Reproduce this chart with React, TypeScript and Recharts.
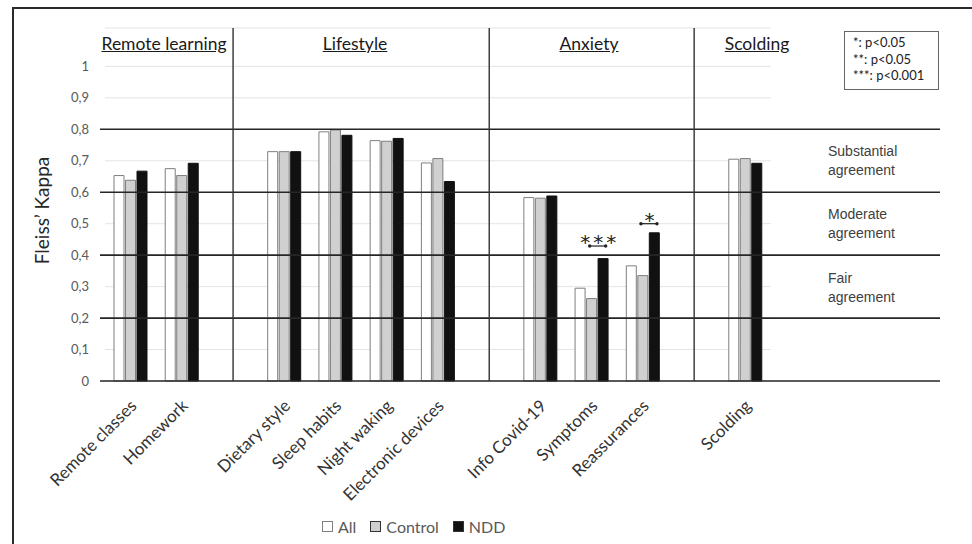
import { BarChart, Bar, XAxis, YAxis, CartesianGrid, ReferenceLine, ReferenceDot } from 'recharts';

const CATEGORIES = [
  'Remote classes', 'Homework', '',
  'Dietary style', 'Sleep habits', 'Night waking', 'Electronic devices', '',
  'Info Covid-19', 'Symptoms', 'Reassurances', '',
  'Scolding',
];
const ALL = [0.653, 0.675, null, 0.729, 0.792, 0.764, 0.693, null, 0.583, 0.295, 0.366, null, 0.705];
const CONTROL = [0.638, 0.653, null, 0.729, 0.798, 0.762, 0.707, null, 0.581, 0.262, 0.335, null, 0.707];
const NDD = [0.667, 0.692, null, 0.729, 0.781, 0.771, 0.634, null, 0.588, 0.389, 0.471, null, 0.692];

const Y_TICKS = [0, 0.1, 0.2, 0.3, 0.4, 0.5, 0.6, 0.7, 0.8, 0.9, 1];
const THRESHOLDS = [0, 0.2, 0.4, 0.6, 0.8];
const SEPARATORS = ['k2', 'k7', 'k11'];

const SIGNIFICANCE = [
  { cat: 'k9', y: 0.429, stars: '***' },
  { cat: 'k10', y: 0.5, stars: '*' },
];

const SERIES = [
  { key: 'all', name: 'All', values: ALL, fill: '#ffffff', stroke: '#7f7f7f' },
  { key: 'control', name: 'Control', values: CONTROL, fill: '#d0d0d0', stroke: '#7f7f7f' },
  { key: 'ndd', name: 'NDD', values: NDD, fill: '#111111', stroke: '#111111' },
];

const SECTIONS = [
  { label: 'Remote learning', left: 94, width: 140 },
  { label: 'Lifestyle', left: 300, width: 110 },
  { label: 'Anxiety', left: 540, width: 98 },
  { label: 'Scolding', left: 710, width: 94 },
];

const AGREEMENT = [
  { label: ['Substantial', 'agreement'], top: 142 },
  { label: ['Moderate', 'agreement'], top: 205 },
  { label: ['Fair', 'agreement'], top: 269 },
];

const P_LEGEND = ['*: p<0.05', '**: p<0.05', '***: p<0.001'];

const data = CATEGORIES.map((c, i) => {
  const row: Record<string, any> = { key: `k${i}`, label: c };
  SERIES.forEach((s) => {
    row[s.key] = s.values[i];
  });
  return row;
});

const PAD_LEFT = 5;
const PAD_RIGHT = 169;
const FONT = 'Lato, "Open Sans", sans-serif';

const CategoryTick = (props: any) => {
  const { x, y, payload } = props;
  const row = data.find((d) => d.key === payload.value);
  const label = row ? row.label : '';
  const tx = x + 7;
  const ty = y + 24;
  return (
    <text
      x={tx}
      y={ty}
      textAnchor="end"
      transform={`rotate(-45 ${tx} ${ty})`}
      fontSize={17}
      fontFamily={FONT}
      fill="#333"
    >
      {label}
    </text>
  );
};

const SigMark = (props: any) => {
  const { cx, cy, stars } = props;
  if (cx == null || cy == null) return null;
  const x1 = cx - 2;
  const x2 = cx + 14;
  return (
    <g>
      <line x1={x1} x2={x2} y1={cy} y2={cy} stroke="#222" strokeWidth={1.2} />
      <circle cx={x1} cy={cy} r={1.7} fill="#222" />
      <circle cx={x2} cy={cy} r={1.7} fill="#222" />
      <text
        x={(x1 + x2) / 2 + 2}
        y={cy + 3}
        textAnchor="middle"
        fontSize={20}
        fontFamily='"DejaVu Sans", sans-serif'
        letterSpacing={3}
        fill="#222"
      >
        {stars}
      </text>
    </g>
  );
};

export default function App() {
  return (
    <div
      style={{
        position: 'absolute',
        left: 0,
        top: 0,
        width: 972,
        height: 544,
        overflow: 'hidden',
        background: '#fff',
        fontFamily: FONT,
      }}
    >
      <div
        style={{
          position: 'absolute',
          left: 12,
          top: 7,
          width: 1000,
          height: 600,
          border: '2px solid #2a2a2a',
        }}
      />
      <div style={{ position: 'absolute', left: 0, top: 0 }}>
        <BarChart
          width={972}
          height={544}
          data={data}
          margin={{ top: 28, right: 32, left: 0, bottom: 0 }}
          barSize={10}
          barGap={1.5}
        >
          <CartesianGrid
            vertical={false}
            horizontal={(p: any) => (
              <line
                key={p.key}
                x1={p.x1 + PAD_LEFT}
                x2={p.x2 - PAD_RIGHT}
                y1={p.y1}
                y2={p.y2}
                stroke="#e4e4e4"
                strokeWidth={1}
              />
            )}
          />
          <XAxis
            dataKey="key"
            interval={0}
            height={163}
            tickSize={0}
            axisLine={false}
            tickLine={false}
            padding={{ left: PAD_LEFT, right: PAD_RIGHT }}
            tick={<CategoryTick />}
          />
          <YAxis
            width={100}
            domain={[0, 1.122]}
            ticks={Y_TICKS}
            axisLine={false}
            tickLine={false}
            tickSize={0}
            tickMargin={11}
            tickFormatter={(v: number) => String(v).replace('.', ',')}
            tick={{ fontSize: 13, fill: '#595959', fontFamily: FONT }}
            label={{
              value: 'Fleiss’ Kappa',
              angle: -90,
              position: 'insideLeft',
              offset: 42,
              dy: 6,
              style: { fontSize: 19, fill: '#262626', fontFamily: FONT, textAnchor: 'middle' },
            }}
          />
          {SERIES.map((s) => (
            <Bar
              key={s.key}
              dataKey={s.key}
              name={s.name}
              fill={s.fill}
              stroke={s.stroke}
              strokeWidth={1}
              isAnimationActive={false}
            />
          ))}
          {THRESHOLDS.map((t) => (
            <ReferenceLine key={t} y={t} stroke="#262626" strokeWidth={1.6} />
          ))}
          {SEPARATORS.map((k) => (
            <ReferenceLine key={k} x={k} stroke="#333" strokeWidth={1.4} />
          ))}
          {SIGNIFICANCE.map((s) => (
            <ReferenceDot
              key={s.cat}
              x={s.cat}
              y={s.y}
              r={0}
              shape={(p: any) => <SigMark {...p} stars={s.stars} />}
            />
          ))}
        </BarChart>
      </div>

      {SECTIONS.map((s) => (
        <div
          key={s.label}
          style={{
            position: 'absolute',
            left: s.left,
            top: 33,
            width: s.width,
            textAlign: 'center',
            fontSize: 17.5,
            color: '#1a1a1a',
            textDecoration: 'underline',
            whiteSpace: 'nowrap',
          }}
        >
          {s.label}
        </div>
      ))}

      {AGREEMENT.map((a) => (
        <div
          key={a.label[0]}
          style={{
            position: 'absolute',
            left: 828,
            top: a.top,
            fontSize: 14,
            lineHeight: '19px',
            color: '#404040',
            fontFamily: '"Liberation Sans", Arial, sans-serif',
          }}
        >
          {a.label[0]}
          <br />
          {a.label[1]}
        </div>
      ))}

      <div
        style={{
          position: 'absolute',
          left: 844,
          top: 31,
          width: 95,
          height: 59,
          border: '1px solid #666',
          paddingLeft: 8,
          boxSizing: 'border-box',
          paddingTop: 2,
          fontSize: 13,
          lineHeight: '16.5px',
          color: '#222',
        }}
      >
        {P_LEGEND.map((t) => (
          <div key={t}>{t}</div>
        ))}
      </div>

      <div
        style={{
          position: 'absolute',
          left: 322,
          top: 517,
          display: 'flex',
          alignItems: 'center',
          fontSize: 16,
          color: '#595959',
        }}
      >
        {SERIES.map((s) => (
          <div key={s.key} style={{ display: 'flex', alignItems: 'center', marginRight: 14 }}>
            <span
              style={{
                display: 'inline-block',
                width: 9,
                height: 9,
                background: s.fill,
                border: `1px solid ${s.key === 'all' ? '#7f7f7f' : '#333'}`,
                marginRight: 5,
              }}
            />
            {s.name}
          </div>
        ))}
      </div>
    </div>
  );
}
